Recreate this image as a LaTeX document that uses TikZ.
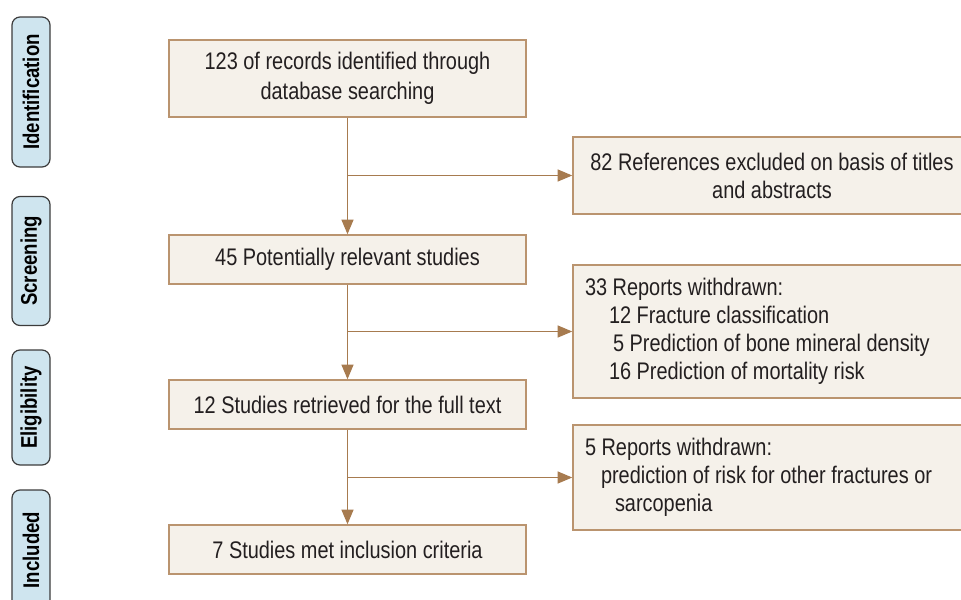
\documentclass[tikz,border=0pt]{standalone}
\usepackage{fontspec}
\setmainfont{Liberation Sans}[FakeStretch=0.83]
\newfontfamily\labfont{Liberation Sans}[FakeStretch=0.82]
\usetikzlibrary{arrows.meta}
\definecolor{boxfill}{HTML}{F5F1EA}
\definecolor{boxdraw}{HTML}{BA946F}
\definecolor{arrowcol}{HTML}{A77B4F}
\definecolor{labfill}{HTML}{CFE5EF}
\definecolor{labdraw}{HTML}{3C3C3C}
\definecolor{txt}{HTML}{231F20}
\newcommand{\sidetext}[1]{\parbox{280.5pt}{\raggedright #1}}
\tikzset{
  mainbox/.style={draw=boxdraw, fill=boxfill, line width=1.1pt, inner sep=0pt,
    minimum width=357*0.75pt, align=center, text=txt,
    font=\fontsize{18}{22.5}\selectfont},
  sidebox/.style={draw=boxdraw, fill=boxfill, line width=1.1pt, inner sep=0pt,
    minimum width=398*0.75pt, text=txt, font=\fontsize{18}{21}\selectfont},
  stagelab/.style={draw=labdraw, fill=labfill, line width=0.9pt, rounded corners=6pt,
    rotate=90, minimum height=38*0.75pt, inner sep=0pt, text=black,
    font=\labfont\bfseries\fontsize{17}{20}\selectfont},
  flow/.style={draw=arrowcol, line width=1pt, -{Triangle[length=11pt,width=9pt]}}
}
\begin{document}
\begin{tikzpicture}[x=0.75pt,y=-0.75pt]
\useasboundingbox (0,0) rectangle (961,600);
% stage labels
\node[stagelab, minimum width=150*0.75pt] (l1) at (31,92) {Identification};
\node[stagelab, minimum width=129*0.75pt] (l2) at (31,261) {Screening};
\node[stagelab, minimum width=115*0.75pt] (l3) at (31,407.5) {Eligibility};
\node[stagelab, minimum width=120*0.75pt] (l4) at (31,550) {Included};
% main boxes
\node[mainbox, minimum height=77*0.75pt] (b1) at (347.5,78.5) {123 of records identified through\\database searching};
\node[mainbox, minimum height=49*0.75pt] (b2) at (347.5,259.5) {45 Potentially relevant studies};
\node[mainbox, minimum height=49*0.75pt] (b3) at (347.5,404.5) {12 Studies retrieved for the full text};
\node[mainbox, minimum height=49*0.75pt] (b4) at (347.5,549.5) {7 Studies met inclusion criteria};
% side boxes
\node[sidebox, minimum height=77*0.75pt, align=center] (r1) at (772,175.5) {82 References excluded on basis of titles\\and abstracts};
\node[sidebox, minimum height=133*0.75pt] (r2) at (772,331.5)
  {\sidetext{33 Reports withdrawn:\\\hspace*{18pt}12 Fracture classification\\\hspace*{21pt}5 Prediction of bone mineral density\\\hspace*{18pt}16 Prediction of mortality risk}};
\node[sidebox, minimum height=105*0.75pt] (r3) at (772,477.5)
  {\sidetext{5 Reports withdrawn:\\\hspace*{12pt}prediction of risk for other fractures or\\\hspace*{22.5pt}sarcopenia}};
% connectors
\draw[flow] (b1.south) -- (b2.north);
\draw[flow] (b2.south) -- (b3.north);
\draw[flow] (b3.south) -- (b4.north);
\coordinate (j1) at (b1.south |- r1.west);
\coordinate (j2) at (b2.south |- r2.west);
\coordinate (j3) at (b3.south |- r3.west);
\draw[flow] (j1) -- (r1.west);
\draw[flow] (j2) -- (r2.west);
\draw[flow] (j3) -- (r3.west);
\end{tikzpicture}
\end{document}
